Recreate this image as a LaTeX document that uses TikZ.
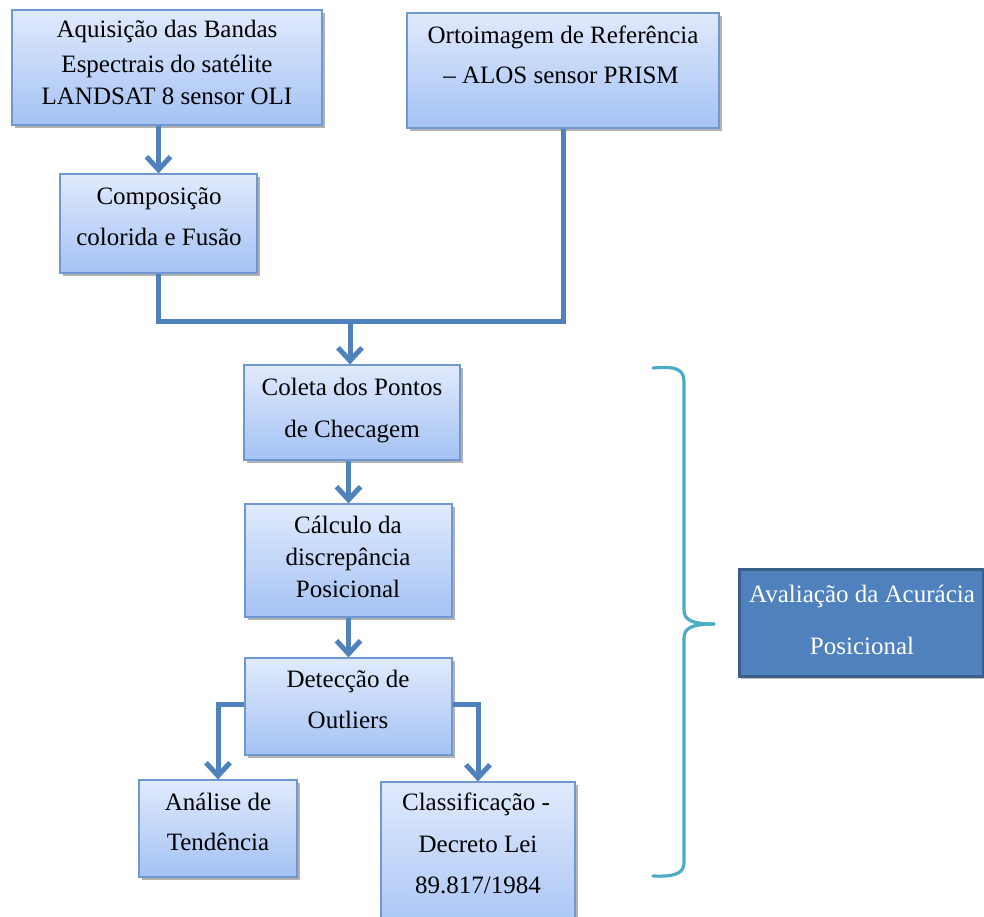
\documentclass[tikz,border=0pt]{standalone}
\usepackage{fontspec}
\setmainfont{Liberation Serif}
\usetikzlibrary{arrows.meta,shadows}
\definecolor{boxtop}{HTML}{E0EAFC}
\definecolor{boxbot}{HTML}{A4C2F4}
\definecolor{boxline}{HTML}{6F98CF}
\definecolor{conncol}{HTML}{4F81BD}
\definecolor{bracecol}{HTML}{4BACC6}
\definecolor{avalfill}{HTML}{4F81BD}
\definecolor{avalline}{HTML}{3A5F8C}
\tikzset{
  lightbox/.style={draw=boxline, line width=1.2pt, top color=boxtop, bottom color=boxbot,
    drop shadow={shadow xshift=2.5pt, shadow yshift=-3pt, fill=black, opacity=0.3},
    inner sep=0pt},
  darkbox/.style={draw=avalline, line width=3pt, fill=avalfill,
    drop shadow={shadow xshift=2pt, shadow yshift=-2pt, fill=black, opacity=0.25},
    inner sep=0pt},
  txt/.style={font=\fontsize{25}{29}\selectfont, inner sep=0pt, anchor=base},
  wtxt/.style={txt, text=white},
  conn/.style={draw=conncol, line width=5pt, line join=miter},
  arr/.style={conn, -{Straight Barb[length=13pt,width=24pt]}},
  bracestyle/.style={draw=bracecol, line width=3.2pt, line cap=round, line join=round},
}
\newcommand\tline[5][txt]{\node[#1] (#2) at (#3,#4) {#5};}
\begin{document}
\begin{tikzpicture}[x=1pt,y=-1pt]
\useasboundingbox (0,0) rectangle (984,916);
\clip (0,0) rectangle (984,916);
\fill[white] (0,0) rectangle (984,916);

% boxes
\node[lightbox, minimum width=310pt, minimum height=115pt] (acq) at (167,67.5) {};
\node[lightbox, minimum width=197pt, minimum height=99pt] (comp) at (158.5,223.5) {};
\node[lightbox, minimum width=312pt, minimum height=115pt] (orto) at (563,70.5) {};
\node[lightbox, minimum width=216pt, minimum height=95pt] (coleta) at (352,412.5) {};
\node[lightbox, minimum width=207pt, minimum height=113pt] (calc) at (348.5,560.5) {};
\node[lightbox, minimum width=207pt, minimum height=97pt] (detec) at (348.5,706.5) {};
\node[lightbox, minimum width=158pt, minimum height=97pt] (anal) at (218,828.5) {};
\node[lightbox, minimum width=194pt, minimum height=160pt] (class) at (478,862) {};
\node[darkbox, minimum width=244pt, minimum height=107pt] (aval) at (861,623) {};

% texts
\tline{acq1}{167}{37}{Aquisição das Bandas}
\tline{acq2}{167}{72}{Espectrais do satélite}
\tline{acq3}{167}{104}{LANDSAT 8 sensor OLI}
\tline{orto1}{563}{43}{Ortoimagem de Referência}
\tline{orto2}{561}{83}{– ALOS sensor PRISM}
\tline{comp1}{159}{204}{Composição}
\tline{comp2}{159}{245}{colorida e Fusão}
\tline{col1}{352}{395}{Coleta dos Pontos}
\tline{col2}{352}{437}{de Checagem}
\tline{calc1}{348}{533}{Cálculo da}
\tline{calc2}{348}{565}{discrepância}
\tline{calc3}{348}{597}{Posicional}
\tline{det1}{348}{687}{Detecção de}
\tline{det2}{348}{728}{Outliers}
\tline{an1}{218}{810}{Análise de}
\tline{an2}{218}{850}{Tendência}
\tline{cl1}{476}{810}{Classificação -}
\tline{cl2}{478}{852}{Decreto Lei}
\tline{cl3}{478}{893}{89.817/1984}
\tline[wtxt]{av1}{862}{602}{Avaliação da Acurácia}
\tline[wtxt]{av2}{862}{654}{Posicional}

% connectors
\coordinate (j) at (350,321);
\draw[arr] (acq.south -| comp.north) -- (comp.north);
\draw[conn] (comp.south) |- (j) -| (orto.south);
\draw[arr] (j) -- (j |- coleta.north);
\draw[arr] (coleta.south -| calc.north) -- (calc.north);
\draw[arr] (calc.south) -- (detec.north);
\draw[arr] (detec.west |- 0,704) -| (anal.north);
\draw[arr] (detec.east |- 0,704) -| (class.north);

% brace
\coordinate (btop) at (653,368);
\coordinate (btip) at (714,624);
\coordinate (bbot) at (653,876);
\draw[bracestyle] (btop) .. controls (676,366) and (684,369) .. (684,382)
  -- (684,610) .. controls (684,620) and (692,624) .. (btip);
\draw[bracestyle] (btip) .. controls (692,624) and (684,628) .. (684,638)
  -- (684,862) .. controls (684,873) and (676,877) .. (bbot);
\end{tikzpicture}
\end{document}
